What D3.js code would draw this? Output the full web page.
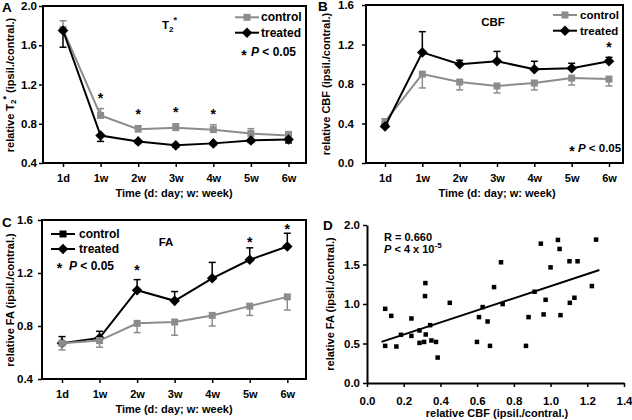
<!DOCTYPE html>
<html><head><meta charset="utf-8">
<script src="https://cdn.jsdelivr.net/npm/d3@7"></script>
<style>
body{margin:0;background:#fff}
text{font-family:"Liberation Sans",Arial,Helvetica,sans-serif;font-weight:bold;fill:#000}
</style>
</head><body>
<svg id="c" width="632" height="420"></svg>
<script>
// ---------------- DATA ----------------
const categories = ["1d","1w","2w","3w","4w","5w","6w"];

// Panel A: relative T2*
const t2Control     = [1.76, 0.885, 0.745, 0.76, 0.74, 0.70, 0.68];
const t2ControlErr  = [0.09, 0.07, 0.035, 0.04, 0.05, 0.05, 0.04];
const t2Treated     = [1.75, 0.68, 0.62, 0.58, 0.60, 0.63, 0.64];
const t2TreatedErr  = [0.17, 0.06, 0.02, 0.02, 0.015, 0.02, 0.035];
const t2Stars       = [null, 1.09, 0.93, 0.95, 0.93, null, null];
const t2Ticks       = [0.4, 0.8, 1.2, 1.6, 2.0];

// Panel B: relative CBF
const cbfControl    = [0.42, 0.90, 0.82, 0.78, 0.81, 0.86, 0.85];
const cbfControlErr = [0.02, 0.14, 0.08, 0.07, 0.07, 0.07, 0.07];
const cbfTreated    = [0.37, 1.12, 1.00, 1.03, 0.95, 0.96, 1.03];
const cbfTreatedErr = [0.02, 0.21, 0.04, 0.10, 0.08, 0.05, 0.04];
const cbfStars      = [null, null, null, null, null, null, 1.20];
const cbfTicks      = [0.0, 0.4, 0.8, 1.2, 1.6];

// Panel C: relative FA
const faControl     = [0.67, 0.69, 0.82, 0.83, 0.88, 0.95, 1.02];
const faControlErr  = [0.05, 0.05, 0.07, 0.10, 0.08, 0.07, 0.10];
const faTreated     = [0.67, 0.71, 1.07, 0.99, 1.16, 1.30, 1.40];
const faTreatedErr  = [0.05, 0.05, 0.08, 0.07, 0.12, 0.09, 0.10];
const faStars       = [null, null, 1.24, null, null, 1.455, 1.555];
const faTicks       = [0.4, 0.8, 1.2, 1.6];

// Panel D: scatter relative CBF vs relative FA
const scatterCBF = [0.099,0.099,0.132,0.160,0.185,0.242,0.242,0.286,0.286,0.311,0.318,0.316,0.320,0.344,0.351,0.376,0.385,0.451,0.599,0.610,0.630,0.657,0.670,0.692,0.730,0.739,0.866,0.880,0.913,0.947,0.962,0.973,1.000,1.040,1.049,1.054,1.103,1.105,1.130,1.147,1.225,1.248];
const scatterFA  = [0.939,0.470,0.850,0.462,0.610,0.817,0.596,0.665,0.508,0.520,1.265,1.100,0.614,0.732,0.538,0.520,0.322,1.015,0.520,0.834,0.961,0.779,0.470,1.214,1.528,0.999,0.470,0.834,1.155,1.764,0.868,1.053,1.464,1.811,1.697,0.859,1.541,1.015,1.079,1.541,1.227,1.815];
const fitLineCBF = [0.079, 1.266];
const fitLineFA  = [0.520, 1.430];
const scatterXTicks = [0.0,0.2,0.4,0.6,0.8,1.0,1.2,1.4];
const scatterYTicks = [0.0,0.5,1.0,1.5,2.0];

// ---------------- DRAWING ----------------
const svg = d3.select("#c");
svg.append("rect").attr("width",632).attr("height",420).attr("fill","#fff");
const GRAY = "#8c8c8c";
const fmt1 = d3.format(".1f");

function styleAxis(a, fs) {
  a.selectAll(".tick line").attr("stroke","#000").attr("stroke-width",1.5);
  a.selectAll(".tick text").attr("font-size",fs).attr("fill","#000");
}
function drawSquare(g, cx, cy, s, color) {
  g.append("rect").attr("x",cx-s/2).attr("y",cy-s/2).attr("width",s).attr("height",s).attr("fill",color);
}
function drawDiamond(g, cx, cy, r, color) {
  g.append("path").attr("d",`M${cx},${cy-r}L${cx+r},${cy}L${cx},${cy+r}L${cx-r},${cy}Z`).attr("fill",color);
}
function marker(g, shape, cx, cy, color) {
  if (shape === "square") drawSquare(g, cx, cy, 7, color);
  else drawDiamond(g, cx, cy, 5.3, color);
}

function linePanel(o) {
  const g = svg.append("g");
  const x = d3.scalePoint().domain(categories).range(o.xr);
  const y = d3.scaleLinear().domain(o.yd).range([o.y1, o.y0]);

  const ya = g.append("g").attr("transform",`translate(${o.x0},0)`)
    .call(d3.axisLeft(y).tickValues(o.yt).tickFormat(fmt1).tickSize(4).tickSizeOuter(0).tickPadding(o.padY));
  ya.select(".domain").remove();
  styleAxis(ya, 11.5);
  const xa = g.append("g").attr("transform",`translate(0,${o.y1})`)
    .call(d3.axisBottom(x).tickSize(4).tickSizeOuter(0).tickPadding(7));
  xa.select(".domain").remove();
  styleAxis(xa, 11);

  g.append("rect").attr("x",o.x0).attr("y",o.y0).attr("width",o.x1-o.x0).attr("height",o.y1-o.y0)
    .attr("fill","none").attr("stroke","#000").attr("stroke-width",2);

  function series(vals, errs, dir, color, shape) {
    const sg = g.append("g");
    vals.forEach((v,i) => {
      const cx = x(categories[i]);
      const ye = y(v + dir*errs[i]);
      sg.append("line").attr("x1",cx).attr("x2",cx).attr("y1",y(v)).attr("y2",ye).attr("stroke",color).attr("stroke-width",1.5);
      sg.append("line").attr("x1",cx-3.5).attr("x2",cx+3.5).attr("y1",ye).attr("y2",ye).attr("stroke",color).attr("stroke-width",1.5);
    });
    sg.append("path").datum(vals)
      .attr("d", d3.line().x((d,i)=>x(categories[i])).y(d=>y(d)))
      .attr("fill","none").attr("stroke",color).attr("stroke-width",2);
    vals.forEach((v,i) => marker(sg, shape, x(categories[i]), y(v), color));
  }
  o.order.forEach(s => {
    if (s === "control") series(o.control, o.controlErr, o.controlDir, GRAY, "square");
    else series(o.treated, o.treatedErr, o.treatedDir, "#000", "diamond");
  });

  o.stars.forEach((s,i) => {
    if (s === null) return;
    g.append("text").attr("x", x(categories[i])).attr("y", y(s)+7.6)
      .attr("text-anchor","middle").attr("font-size",14).text("*");
  });
  return g;
}

function legendEntry(lx0, lx1, yc, color, shape, label, tx, fs) {
  svg.append("line").attr("x1",lx0).attr("x2",lx1).attr("y1",yc).attr("y2",yc).attr("stroke",color).attr("stroke-width",2);
  marker(svg, shape, (lx0+lx1)/2, yc, color);
  svg.append("text").attr("x",tx).attr("y",yc).attr("dominant-baseline","central").attr("font-size",fs||12).text(label);
}
function pLegend(sx, yc, px, fs) {
  svg.append("text").attr("x",sx).attr("y",yc+7.6).attr("text-anchor","middle").attr("font-size",14).text("*");
  const t = svg.append("text").attr("x",px).attr("y",yc).attr("dominant-baseline","central").attr("font-size",fs||12);
  t.append("tspan").attr("font-style","italic").text("P");
  t.append("tspan").text(" < 0.05");
}
function panelLetter(x, yc, s) {
  svg.append("text").attr("x",x).attr("y",yc).attr("dominant-baseline","central").attr("font-size",13.5).text(s);
}
function xTitle(cx, cy, s) {
  svg.append("text").attr("x",cx).attr("y",cy).attr("text-anchor","middle").attr("dominant-baseline","central").attr("font-size",11).text(s);
}
function yTitle(cx, cy) {
  return svg.append("text").attr("transform",`translate(${cx},${cy}) rotate(-90)`)
    .attr("text-anchor","middle").attr("dominant-baseline","central").attr("font-size",11);
}

// ---- Panel A ----
linePanel({x0:43, x1:306, y0:6, y1:163, xr:[63,288.5], yd:[0.4,2.0], yt:t2Ticks, padY:2,
  control:t2Control, controlErr:t2ControlErr, controlDir:1,
  treated:t2Treated, treatedErr:t2TreatedErr, treatedDir:-1,
  stars:t2Stars, order:["control","treated"]});
panelLetter(2, 7, "A");
xTitle(174, 193, "Time (d: day; w: week)");
{
  const t = yTitle(10, 85);
  t.append("tspan").text("relative T");
  t.append("tspan").attr("font-size",8).attr("dy",3).text("2");
  t.append("tspan").attr("font-size",9).attr("dy",-7).text("*");
  t.append("tspan").attr("dy",4).text(" (ipsil./contral.)");
}
{
  const t = svg.append("text").attr("x",162).attr("y",29).attr("font-size",11.5);
  t.append("tspan").text("T");
  t.append("tspan").attr("font-size",8).attr("dy",3).text("2");
  t.append("tspan").attr("font-size",9).attr("dy",-9).text("*");
}
legendEntry(235, 259, 17.3, GRAY, "square", "control", 261);
legendEntry(235, 259, 32.7, "#000", "diamond", "treated", 261);
pLegend(244, 52.3, 251);

// ---- Panel B ----
linePanel({x0:366, x1:623, y0:5, y1:163, xr:[385,609], yd:[0,1.6], yt:cbfTicks, padY:8,
  control:cbfControl, controlErr:cbfControlErr, controlDir:-1,
  treated:cbfTreated, treatedErr:cbfTreatedErr, treatedDir:1,
  stars:cbfStars, order:["control","treated"]});
panelLetter(318, 6, "B");
xTitle(497, 193, "Time (d: day; w: week)");
yTitle(326, 84).text("relative CBF (ipsil./contral.)");
svg.append("text").attr("x",493).attr("y",21.7).attr("text-anchor","middle").attr("dominant-baseline","central").attr("font-size",11.5).text("CBF");
legendEntry(553, 577, 15, GRAY, "square", "control", 580, 11.5);
legendEntry(553, 577, 30.7, "#000", "diamond", "treated", 580, 11.5);
pLegend(572, 148.3, 578, 11.5);

// ---- Panel C ----
linePanel({x0:42, x1:306, y0:220, y1:379, xr:[62,287.3], yd:[0.4,1.6], yt:faTicks, padY:5,
  control:faControl, controlErr:faControlErr, controlDir:-1,
  treated:faTreated, treatedErr:faTreatedErr, treatedDir:1,
  stars:faStars, order:["treated","control"]});
panelLetter(2, 222, "C");
xTitle(174, 409.3, "Time (d: day; w: week)");
yTitle(10, 300).text("relative FA (ipsil./contral.)");
svg.append("text").attr("x",166).attr("y",241.7).attr("text-anchor","middle").attr("dominant-baseline","central").attr("font-size",11.5).text("FA");
legendEntry(51, 75, 234, "#000", "square", "control", 79);
legendEntry(51, 75, 249, "#000", "diamond", "treated", 79);
pLegend(59.5, 265.5, 69);

// ---- Panel D ----
{
  const g = svg.append("g");
  const x = d3.scaleLinear().domain([0,1.4]).range([367,624]);
  const y = d3.scaleLinear().domain([0,2]).range([383,225]);
  const xa = g.append("g").attr("transform","translate(0,383)")
    .call(d3.axisBottom(x).tickValues(scatterXTicks).tickFormat(fmt1).tickSize(4).tickSizeOuter(0).tickPadding(10));
  xa.select(".domain").attr("stroke","#000").attr("stroke-width",2);
  styleAxis(xa, 11.5);
  const ya = g.append("g").attr("transform","translate(367,0)")
    .call(d3.axisLeft(y).tickValues(scatterYTicks).tickFormat(fmt1).tickSize(4).tickSizeOuter(0).tickPadding(3));
  ya.select(".domain").attr("stroke","#000").attr("stroke-width",2);
  styleAxis(ya, 11.5);

  g.append("line").attr("x1",x(fitLineCBF[0])).attr("x2",x(fitLineCBF[1]))
    .attr("y1",y(fitLineFA[0])).attr("y2",y(fitLineFA[1])).attr("stroke","#000").attr("stroke-width",2);
  scatterCBF.forEach((v,i) => drawSquare(g, x(v), y(scatterFA[i]), 4.5, "#000"));

  g.append("text").attr("x",384).attr("y",236.7).attr("dominant-baseline","central").attr("font-size",11).text("R = 0.660");
  const t = g.append("text").attr("x",384).attr("y",249).attr("dominant-baseline","central").attr("font-size",11);
  t.append("tspan").attr("font-style","italic").text("P");
  t.append("tspan").text(" < 4 x 10");
  t.append("tspan").attr("font-size",8).attr("dy",-4).text("-5");
}
panelLetter(323, 225, "D");
xTitle(497, 412.7, "relative CBF (ipsil./contral.)");
yTitle(329.5, 304).text("relative FA (ipsil./contral.)");
</script>
</body></html>
